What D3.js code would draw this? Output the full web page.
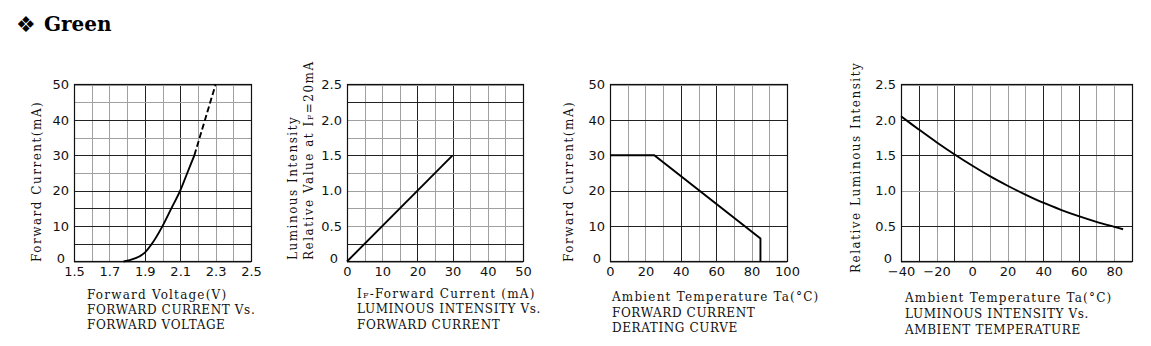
<!DOCTYPE html>
<html><head><meta charset="utf-8">
<script src="https://cdn.jsdelivr.net/npm/d3@7"></script>
<style>
body{margin:0;background:#fff}
.tick text{font-family:"DejaVu Sans",sans-serif;font-size:13px;fill:#111}
.ttl{font-family:"DejaVu Serif",serif;font-size:12px;fill:#111;letter-spacing:0.6px}
.ttl.lc{letter-spacing:1.2px}
.ttl.yt{letter-spacing:1.5px}
</style>
</head><body><svg id="c" width="1151" height="346"></svg>
<script>
// ---------- data ----------
const vfSolid = [[1.78,0],[1.84,0.8],[1.9,2.5],[1.94,5],[2.0,10],[2.05,15],[2.1,20],[2.14,25],[2.18,30]];
const vfDash = [[2.18,30],[2.24,40],[2.30,50]];
const ivLine = [[0,0],[30,1.5]];
const derate = [[0,30],[25,30],[85,6.5],[85,0]];
const tempLum = [[-40,2.05],[-30,1.865],[-20,1.685],[-10,1.515],[0,1.355],[10,1.205],[20,1.07],[30,0.945],[40,0.83],[50,0.73],[60,0.64],[70,0.56],[80,0.49],[85,0.455]];

const p1XTicks = [1.5,1.7,1.9,2.1,2.3,2.5];
const p1XLabels = ["1.5","1.7","1.9","2.1","2.3","2.5"];
const p1YTicks = [0,10,20,30,40,50];
const p1YLabels = ["0","10","20","30","40","50"];
const p1XGrid = [1.5,1.6,1.7,1.8,1.9,2.0,2.1,2.2,2.3,2.4,2.5];
const p1XDark = [1.9,2.1];
const p1YGrid = [0,5,10,15,20,25,30,35,40,45,50];
const p1YDark = [5,10,15,20,30,40];

const p2XTicks = [0,10,20,30,40,50];
const p2XLabels = ["0","10","20","30","40","50"];
const p2YTicks = [0,0.5,1.0,1.5,2.0,2.5];
const p2YLabels = ["0","0.5","1.0","1.5","2.0","2.5"];
const p2XGrid = [0,5,10,15,20,25,30,35,40,45,50];
const p2XDark = [20,30];
const p2YGrid = [0,0.25,0.5,0.75,1.0,1.25,1.5,1.75,2.0,2.25,2.5];
const p2YDark = [0.25,1.5,2.25];

const p3XTicks = [0,20,40,60,80,100];
const p3XLabels = ["0","20","40","60","80","100"];
const p3YTicks = [0,10,20,30,40,50];
const p3YLabels = ["0","10","20","30","40","50"];
const p3XGrid = [0,10,20,30,40,50,60,70,80,90,100];
const p3XDark = [40,60];
const p3YGrid = [0,10,20,30,40,50];
const p3YDark = [10,20,30,40];

const p4XTicks = [-40,-20,0,20,40,60,80];
const p4XLabels = ["\u221240","\u221220","0","20","40","60","80"];
const p4YTicks = [0,0.5,1.0,1.5,2.0,2.5];
const p4YLabels = ["0","0.5","1.0","1.5","2.0","2.5"];
const p4XGrid = [-40,-30,-20,-10,0,10,20,30,40,50,60,70,80,90];
const p4XDark = [-30,-10,40,60];
const p4YGrid = [0,0.5,1.0,1.5,2.0,2.5];
const p4YDark = [0.5,1.5,2.0];

// ---------- drawing ----------
const svg = d3.select("#c");
const TOP = 84.5, BOT = 261.5;

// header
svg.append("text").attr("x",16).attr("y",32).attr("font-family","DejaVu Sans").attr("font-size",22).attr("fill","#000").text("\u2756");
svg.append("text").attr("x",44).attr("y",31).attr("font-family","DejaVu Serif").attr("font-weight","bold").attr("font-size",20).attr("fill","#000").text("Green");

function panel(cfg){
  const x = d3.scaleLinear().domain(cfg.xDom).range([cfg.left, cfg.right]);
  const y = d3.scaleLinear().domain(cfg.yDom).range([BOT, TOP]);
  const g = svg.append("g");
  // grid
  g.selectAll(".vg").data(cfg.xGrid).join("line")
    .attr("x1",d=>Math.round(x(d))+0.5).attr("x2",d=>Math.round(x(d))+0.5)
    .attr("y1",TOP).attr("y2",BOT)
    .attr("stroke",d=>cfg.xDark.includes(d)?"#222":"#a0a0a0").attr("stroke-width",1);
  g.selectAll(".hg").data(cfg.yGrid).join("line")
    .attr("y1",d=>Math.round(y(d))+0.5).attr("y2",d=>Math.round(y(d))+0.5)
    .attr("x1",cfg.left).attr("x2",cfg.right)
    .attr("stroke",d=>cfg.yDark.includes(d)?"#222":"#a0a0a0").attr("stroke-width",1);
  // border
  g.append("rect").attr("x",Math.round(cfg.left)+0.5).attr("y",TOP).attr("width",Math.round(cfg.right-cfg.left)).attr("height",BOT-TOP)
    .attr("fill","none").attr("stroke","#111").attr("stroke-width",1.2);
  // axes labels
  const xa = d3.axisBottom(x).tickValues(cfg.xTicks).tickSize(0).tickPadding(5)
    .tickFormat((d,i)=>cfg.xLabels[i]);
  const ga = g.append("g").attr("transform",`translate(0,${BOT})`).call(xa);
  ga.select(".domain").remove();
  const ya = d3.axisLeft(y).tickValues(cfg.yTicks).tickSize(0).tickPadding(5)
    .tickFormat((d,i)=>cfg.yLabels[i]);
  const gy = g.append("g").attr("transform",`translate(${cfg.left},0)`).call(ya);
  gy.select(".domain").remove();
  gy.selectAll(".tick").filter(d=>d===0).select("text").attr("dx",-4).attr("dy","0.05em");
  // series
  cfg.series.forEach(s=>{
    g.append("path").datum(s.data).attr("d", d3.line().x(d=>x(d[0])).y(d=>y(d[1])).curve(s.curve||d3.curveLinear))
      .attr("fill","none").attr("stroke","#000").attr("stroke-width",1.9)
      .attr("stroke-dasharray",s.dash||null);
  });
  // y titles
  cfg.yTitles.forEach(t=>{
    const tx = g.append("text").attr("class","ttl yt")
      .attr("transform",`translate(${t.x},${t.y}) rotate(-90)`).attr("text-anchor","start");
    t.parts.forEach(p=>{
      const ts = tx.append("tspan").text(p.t);
      if(p.sub) ts.attr("font-size",8);
    });
  });
  // bottom titles
  cfg.bTitles.forEach((t,i)=>{
    const tx = g.append("text").attr("class", i===0 ? "ttl lc" : "ttl").attr("x",cfg.tx).attr("y",cfg.ty[i]);
    t.forEach(p=>{
      const ts = tx.append("tspan").text(p.t);
      if(p.sub) ts.attr("font-size",8);
    });
  });
}

panel({left:74,right:251,xDom:[1.5,2.5],yDom:[0,50],
  xGrid:p1XGrid,xDark:p1XDark,yGrid:p1YGrid,yDark:p1YDark,
  xTicks:p1XTicks,xLabels:p1XLabels,yTicks:p1YTicks,yLabels:p1YLabels,
  series:[{data:vfSolid,curve:d3.curveMonotoneX},{data:vfDash,dash:"6,3"}],
  yTitles:[{x:41,y:262,parts:[{t:"Forward Current(mA)"}]}],
  tx:87,ty:[299,314,329],
  bTitles:[[{t:"Forward Voltage(V)"}],[{t:"FORWARD CURRENT Vs."}],[{t:"FORWARD VOLTAGE"}]]
});
panel({left:347,right:523,xDom:[0,50],yDom:[0,2.5],
  xGrid:p2XGrid,xDark:p2XDark,yGrid:p2YGrid,yDark:p2YDark,
  xTicks:p2XTicks,xLabels:p2XLabels,yTicks:p2YTicks,yLabels:p2YLabels,
  series:[{data:ivLine}],
  yTitles:[{x:297,y:260,parts:[{t:"Luminous Intensity"}]},{x:313,y:260,parts:[{t:"Relative Value at I"},{t:"F",sub:true},{t:"=20mA"}]}],
  tx:357,ty:[298,313,329],
  bTitles:[[{t:"I"},{t:"F",sub:true},{t:"-Forward Current (mA)"}],[{t:"LUMINOUS INTENSITY Vs."}],[{t:"FORWARD CURRENT"}]]
});
panel({left:610,right:787,xDom:[0,100],yDom:[0,50],
  xGrid:p3XGrid,xDark:p3XDark,yGrid:p3YGrid,yDark:p3YDark,
  xTicks:p3XTicks,xLabels:p3XLabels,yTicks:p3YTicks,yLabels:p3YLabels,
  series:[{data:derate}],
  yTitles:[{x:573,y:262,parts:[{t:"Forward Current(mA)"}]}],
  tx:612,ty:[301,317,332],
  bTitles:[[{t:"Ambient Temperature Ta(\u00b0C)"}],[{t:"FORWARD CURRENT"}],[{t:"DERATING CURVE"}]]
});
panel({left:901,right:1132,xDom:[-40,90],yDom:[0,2.5],
  xGrid:p4XGrid,xDark:p4XDark,yGrid:p4YGrid,yDark:p4YDark,
  xTicks:p4XTicks,xLabels:p4XLabels,yTicks:p4YTicks,yLabels:p4YLabels,
  series:[{data:tempLum,curve:d3.curveCatmullRom}],
  yTitles:[{x:860,y:273,parts:[{t:"Relative Luminous Intensity"}]}],
  tx:905,ty:[302,318,334],
  bTitles:[[{t:"Ambient Temperature Ta(\u00b0C)"}],[{t:"LUMINOUS INTENSITY Vs."}],[{t:"AMBIENT TEMPERATURE"}]]
});
</script></body></html>
